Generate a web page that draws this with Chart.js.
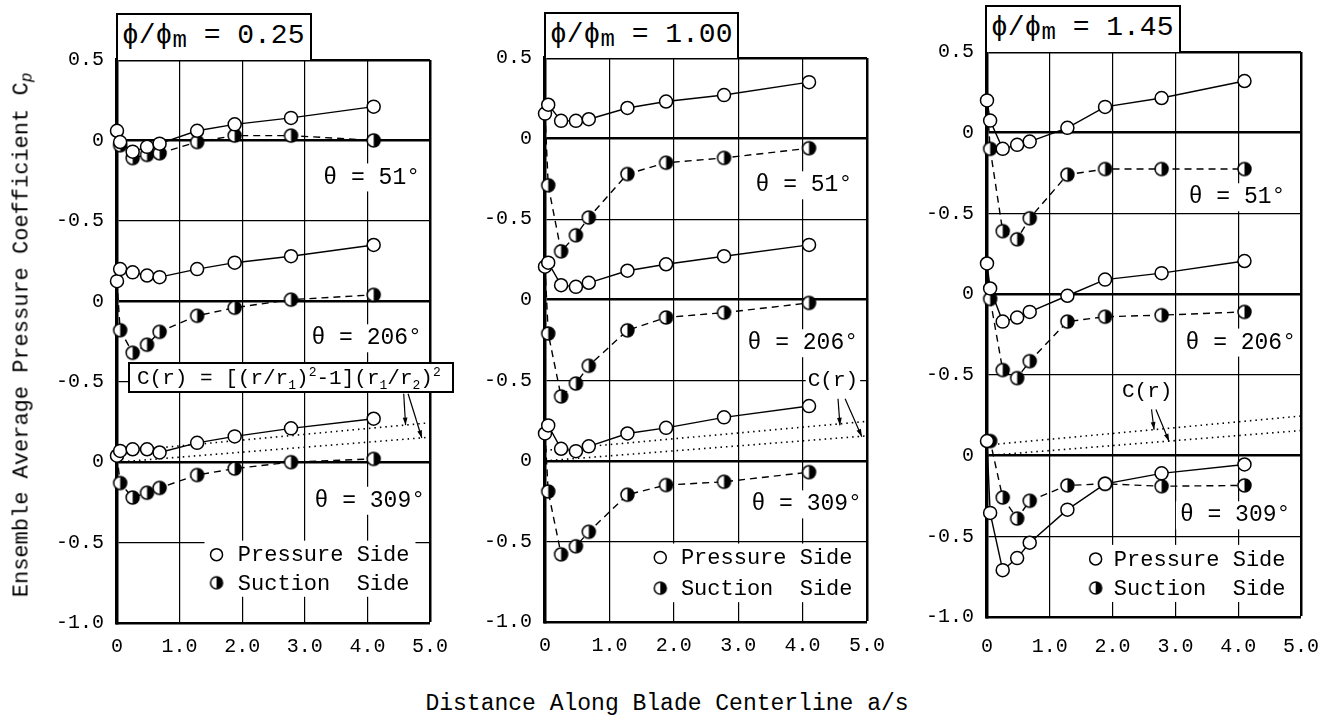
<!DOCTYPE html>
<html>
<head>
<meta charset="utf-8">
<script src="https://cdn.jsdelivr.net/npm/chart.js@4.4.1/dist/chart.umd.min.js"></script>
<style>
  body { margin: 0; background: #fff; width: 1337px; height: 721px; position: relative; overflow: hidden;
         font-family: 'Liberation Mono', 'DejaVu Sans Mono', monospace; color: #000; }
  canvas { position: absolute; top: 0; }
  .tbox { position: absolute; box-sizing: border-box; border: 2px solid #000; border-bottom: none; background: #fff;
          font-size: 28px; line-height: 1; padding: 7px 0 0 4px; white-space: nowrap; }
  .tbox .m { position: relative; top: 4px; font-size: 24px; }
  .formula { position: absolute; box-sizing: border-box; border: 2px solid #000; background: #fff;
             font-size: 21px; line-height: 1; padding: 4px 0 0 7px; white-space: nowrap; }
  .formula sub, .formula sup { font-size: 13px; line-height: 0; }
  .axtitle { position: absolute; white-space: nowrap; font-size: 22px; transform: translate(-50%, -50%); }
  #xtitle { font-size: 23px; }
  #ytitle { transform: translate(-50%, -50%) rotate(-90deg); }
  #ytitle i { font-size: 16px; position: relative; top: 4px; }
</style>
</head>
<body>
<canvas id="c1" width="460" height="680" style="left:0px"></canvas>
<canvas id="c2" width="460" height="680" style="left:440px"></canvas>
<canvas id="c3" width="457" height="680" style="left:880px"></canvas>

<div class="tbox" style="left:116px;top:13px;width:196px;height:47px">ϕ/ϕ<span class="m">m</span> = 0.25</div>
<div class="tbox" style="left:544px;top:12px;width:195px;height:46px">ϕ/ϕ<span class="m">m</span> = 1.00</div>
<div class="tbox" style="left:985px;top:5px;width:196px;height:47px">ϕ/ϕ<span class="m">m</span> = 1.45</div>
<div class="formula" style="left:128px;top:362px;width:326px;height:31px">C(r) = [(r/r<sub>1</sub>)<sup>2</sup>-1](r<sub>1</sub>/r<sub>2</sub>)<sup>2</sup></div>
<div class="axtitle" id="ytitle" style="left:22px;top:335px">Ensemble Average Pressure Coefficient C<i>p</i></div>
<div class="axtitle" id="xtitle" style="left:667px;top:704px">Distance Along Blade Centerline a/s</div>

<script>
const thetaLabels = ['θ = 51°', 'θ = 206°', 'θ = 309°']
const thetaOffsets = [0, -1, -2]
const pressureStations = [0, 0.05, 0.25, 0.48, 0.68, 1.28, 1.88, 2.78, 4.1]
const suctionStations = [0.05, 0.25, 0.48, 0.68, 1.28, 1.88, 2.78, 4.1]
const xTicks = [0, 1, 2, 3, 4, 5]
const xTickLabels = ['0', '1.0', '2.0', '3.0', '4.0', '5.0']
const yTicks = [0.5, 0, -0.5, -1, -1.5, -2, -2.5, -3]
const yTickLabels = ['0.5', '0', '-0.5', '0', '-0.5', '0', '-0.5', '-1.0']
const legendLabels = ['Pressure Side', 'Suction  Side']

// C(r) dotted reference lines (two radii)
const crStations = [0, 5]
const crUpper = [0.065, 0.245]
const crLower = [0, 0.155]

// phi/phim = 0.25
const p025_51 = [0.06, -0.01, -0.07, -0.04, -0.02, 0.06, 0.10, 0.14, 0.21]
const s025_51 = [-0.03, -0.11, -0.09, -0.08, -0.01, 0.03, 0.03, 0.00]
const p025_206 = [0.125, 0.20, 0.18, 0.16, 0.15, 0.20, 0.24, 0.28, 0.35]
const s025_206 = [-0.18, -0.32, -0.27, -0.19, -0.09, -0.04, 0.01, 0.04]
const p025_309 = [0.04, 0.07, 0.08, 0.08, 0.06, 0.12, 0.16, 0.21, 0.27]
const s025_309 = [-0.13, -0.22, -0.19, -0.16, -0.08, -0.04, 0.00, 0.02]

// phi/phim = 1.00
const p100_51 = [0.155, 0.21, 0.11, 0.11, 0.12, 0.19, 0.23, 0.27, 0.35]
const s100_51 = [-0.29, -0.70, -0.60, -0.49, -0.22, -0.15, -0.12, -0.06]
const p100_206 = [0.205, 0.23, 0.09, 0.08, 0.105, 0.18, 0.22, 0.27, 0.34]
const s100_206 = [-0.21, -0.60, -0.52, -0.41, -0.19, -0.11, -0.08, -0.02]
const p100_309 = [0.17, 0.22, 0.075, 0.06, 0.09, 0.17, 0.205, 0.27, 0.34]
const s100_309 = [-0.19, -0.58, -0.53, -0.44, -0.21, -0.15, -0.13, -0.07]

// phi/phim = 1.45
const p145_51 = [0.20, 0.075, -0.10, -0.075, -0.055, 0.03, 0.16, 0.215, 0.32]
const s145_51 = [-0.10, -0.61, -0.66, -0.53, -0.26, -0.225, -0.225, -0.225]
const p145_206 = [0.19, 0.035, -0.17, -0.145, -0.11, -0.01, 0.09, 0.13, 0.205]
const s145_206 = [-0.03, -0.47, -0.52, -0.415, -0.17, -0.14, -0.13, -0.11]
const p145_309 = [0.09, -0.355, -0.71, -0.635, -0.54, -0.335, -0.175, -0.11, -0.055]
const s145_309 = [0.09, -0.26, -0.39, -0.28, -0.185, -0.175, -0.19, -0.185]

const FONT = "'Liberation Mono', 'DejaVu Sans Mono', monospace"

// page layout of the three panels (pixels) and label anchors (data units)
const panels = [
  { id: 'c1', top: 60, right: 25, yw: 117, xh: 57, xpad: 12,
    p: [p025_51, p025_206, p025_309], s: [s025_51, s025_206, s025_309],
    theta: [[4.84, -0.23], [4.87, -1.23], [4.92, -2.24]],
    legend: { mx: 1.59, tx: 1.93, y1: -2.575, y2: -2.75 },
    cr: null,
    arrows: [[4.58, -1.575, 4.61, -1.77], [4.65, -1.575, 4.87, -1.85]] },
  { id: 'c2', top: 58, right: 33, yw: 105, xh: 58, xpad: 12,
    p: [p100_51, p100_206, p100_309], s: [s100_51, s100_206, s100_309],
    theta: [[4.77, -0.29], [4.86, -1.27], [4.92, -2.27]],
    legend: { mx: 1.79, tx: 2.11, y1: -2.60, y2: -2.79 },
    cr: [4.08, -1.50],
    arrows: [[4.55, -1.615, 4.58, -1.78], [4.66, -1.615, 4.92, -1.85]] },
  { id: 'c3', top: 52, right: 29, yw: 107, xh: 63, xpad: 18,
    p: [p145_51, p145_206, p145_309], s: [s145_51, s145_206, s145_309],
    theta: [[4.75, -0.40], [4.92, -1.30], [4.83, -2.37]],
    legend: { mx: 1.73, tx: 2.02, y1: -2.64, y2: -2.82 },
    cr: [2.15, -1.60],
    arrows: [[2.62, -1.714, 2.66, -1.84], [2.69, -1.714, 2.90, -1.913]] }
]

function halfDot(r) {
  const c = document.createElement('canvas')
  const s = Math.ceil(r * 2 + 4)
  c.width = c.height = s
  const g = c.getContext('2d'), m = s / 2
  g.beginPath(); g.arc(m, m, r, 0, Math.PI * 2); g.fillStyle = '#fff'; g.fill()
  g.beginPath(); g.moveTo(m, m - r); g.arc(m, m, r, -Math.PI / 2, Math.PI / 2); g.closePath(); g.fillStyle = '#000'; g.fill()
  g.beginPath(); g.arc(m, m, r, 0, Math.PI * 2); g.lineWidth = 1.5; g.strokeStyle = '#000'; g.stroke()
  return c
}
const suctionDot = halfDot(6.5)
const legendDot = halfDot(6)

function series(xs, ys, off) { return xs.map((x, i) => ({ x, y: ys[i] + off })) }

function decor(cfg) {
  return {
    id: 'decor',
    beforeDatasetsDraw(chart) {
      const { ctx, scales: { x, y } } = chart
      ctx.save()
      ctx.font = '23px ' + FONT
      ctx.textBaseline = 'middle'
      cfg.theta.forEach((t, k) => {
        const px = x.getPixelForValue(t[0]), py = y.getPixelForValue(t[1])
        const w = ctx.measureText(thetaLabels[k]).width
        ctx.fillStyle = '#fff'; ctx.fillRect(px - w - 4, py - 14, w + 6, 28)
        ctx.fillStyle = '#000'; ctx.textAlign = 'right'; ctx.fillText(thetaLabels[k], px, py)
      })
      // legend
      ctx.font = '22px ' + FONT
      const L = cfg.legend
      const mx = x.getPixelForValue(L.mx), tx = x.getPixelForValue(L.tx)
      const y1 = y.getPixelForValue(L.y1), y2 = y.getPixelForValue(L.y2)
      const tw = ctx.measureText(legendLabels[0]).width
      ctx.fillStyle = '#fff'; ctx.fillRect(mx - 12, y1 - 14, tx - mx + tw + 18, y2 - y1 + 28)
      ctx.beginPath(); ctx.arc(mx, y1, 6, 0, Math.PI * 2); ctx.lineWidth = 1.5; ctx.strokeStyle = '#000'; ctx.stroke()
      ctx.drawImage(legendDot, mx - legendDot.width / 2, y2 - legendDot.height / 2)
      ctx.fillStyle = '#000'; ctx.textAlign = 'left'
      ctx.fillText(legendLabels[0], tx, y1 + 1)
      ctx.fillText(legendLabels[1], tx, y2 + 1)
      // C(r) label
      if (cfg.cr) {
        ctx.font = '21px ' + FONT
        const px = x.getPixelForValue(cfg.cr[0]), py = y.getPixelForValue(cfg.cr[1])
        const w = ctx.measureText('C(r)').width
        ctx.fillStyle = '#fff'; ctx.fillRect(px - 2, py - 12, w + 4, 24)
        ctx.fillStyle = '#000'; ctx.fillText('C(r)', px, py)
      }
      ctx.restore()
    },
    afterDatasetsDraw(chart) {
      const { ctx, scales: { x, y } } = chart
      ctx.save()
      ctx.strokeStyle = '#000'; ctx.fillStyle = '#000'; ctx.lineWidth = 1.2
      cfg.arrows.forEach(a => {
        const x1 = x.getPixelForValue(a[0]), y1 = y.getPixelForValue(a[1])
        const x2 = x.getPixelForValue(a[2]), y2 = y.getPixelForValue(a[3])
        const ang = Math.atan2(y2 - y1, x2 - x1)
        ctx.beginPath(); ctx.moveTo(x1, y1); ctx.lineTo(x2, y2); ctx.stroke()
        ctx.beginPath(); ctx.moveTo(x2, y2)
        ctx.lineTo(x2 - 8 * Math.cos(ang - 0.3), y2 - 8 * Math.sin(ang - 0.3))
        ctx.lineTo(x2 - 8 * Math.cos(ang + 0.3), y2 - 8 * Math.sin(ang + 0.3))
        ctx.closePath(); ctx.fill()
      })
      ctx.restore()
    }
  }
}

function makePanel(cfg) {
  const datasets = []
  cfg.p.forEach((ys, k) => datasets.push({
    data: series(pressureStations, ys, thetaOffsets[k]),
    borderColor: '#000', borderWidth: 1.4, backgroundColor: '#fff', tension: 0,
    pointStyle: 'circle', pointRadius: 6.5, pointBorderWidth: 1.5,
    pointBackgroundColor: '#fff', pointBorderColor: '#000', clip: false
  }))
  cfg.s.forEach((ys, k) => datasets.push({
    // suction line starts at the leading-edge (stagnation) point of the pressure side
    data: [{ x: pressureStations[0], y: cfg.p[k][0] + thetaOffsets[k] }].concat(series(suctionStations, ys, thetaOffsets[k])),
    borderColor: '#000', borderWidth: 1.4, borderDash: [7, 5], tension: 0,
    pointStyle: suctionDot, pointRadius: c => c.dataIndex === 0 ? 0 : 6.5, clip: false
  }))
  ;[crUpper, crLower].forEach(ys => datasets.push({
    data: series(crStations, ys, thetaOffsets[2]),
    borderColor: '#000', borderWidth: 1.6, borderDash: [1.5, 4], pointRadius: 0, tension: 0
  }))

  new Chart(document.getElementById(cfg.id), {
    type: 'line',
    data: { datasets },
    options: {
      responsive: false, animation: false, devicePixelRatio: 1,
      layout: { autoPadding: false, padding: { top: cfg.top, right: cfg.right, left: 0, bottom: 0 } },
      plugins: { legend: { display: false }, tooltip: { enabled: false } },
      scales: {
        x: {
          type: 'linear', min: 0, max: 5,
          afterBuildTicks: s => { s.ticks = xTicks.map(v => ({ value: v })) },
          afterFit: s => { s.height = cfg.xh },
          ticks: { callback: v => xTickLabels[xTicks.indexOf(v)], color: '#000', font: { family: FONT, size: 20 },
                   padding: cfg.xpad, maxRotation: 0, autoSkip: false },
          grid: { color: '#000', drawTicks: false, lineWidth: c => c.tick.value === 0 ? 0 : (c.tick.value === 5 ? 2.5 : 1.2) },
          border: { color: '#000', width: 2.5 }
        },
        y: {
          type: 'linear', min: -3, max: 0.5,
          afterBuildTicks: s => { s.ticks = yTicks.map(v => ({ value: v })) },
          afterFit: s => { s.width = cfg.yw },
          ticks: { callback: v => yTickLabels[yTicks.indexOf(v)], color: '#000', font: { family: FONT, size: 20 },
                   padding: 13, autoSkip: false },
          grid: { color: '#000', drawTicks: false,
                  lineWidth: c => { const v = c.tick.value; return v === -3 ? 0 : (v === 0.5 || v === 0 || v === -1 || v === -2 ? 2.6 : 1.2) } },
          border: { color: '#000', width: 3.5 }
        }
      }
    },
    plugins: [decor(cfg)]
  })
}

panels.forEach(makePanel)
</script>
</body>
</html>
